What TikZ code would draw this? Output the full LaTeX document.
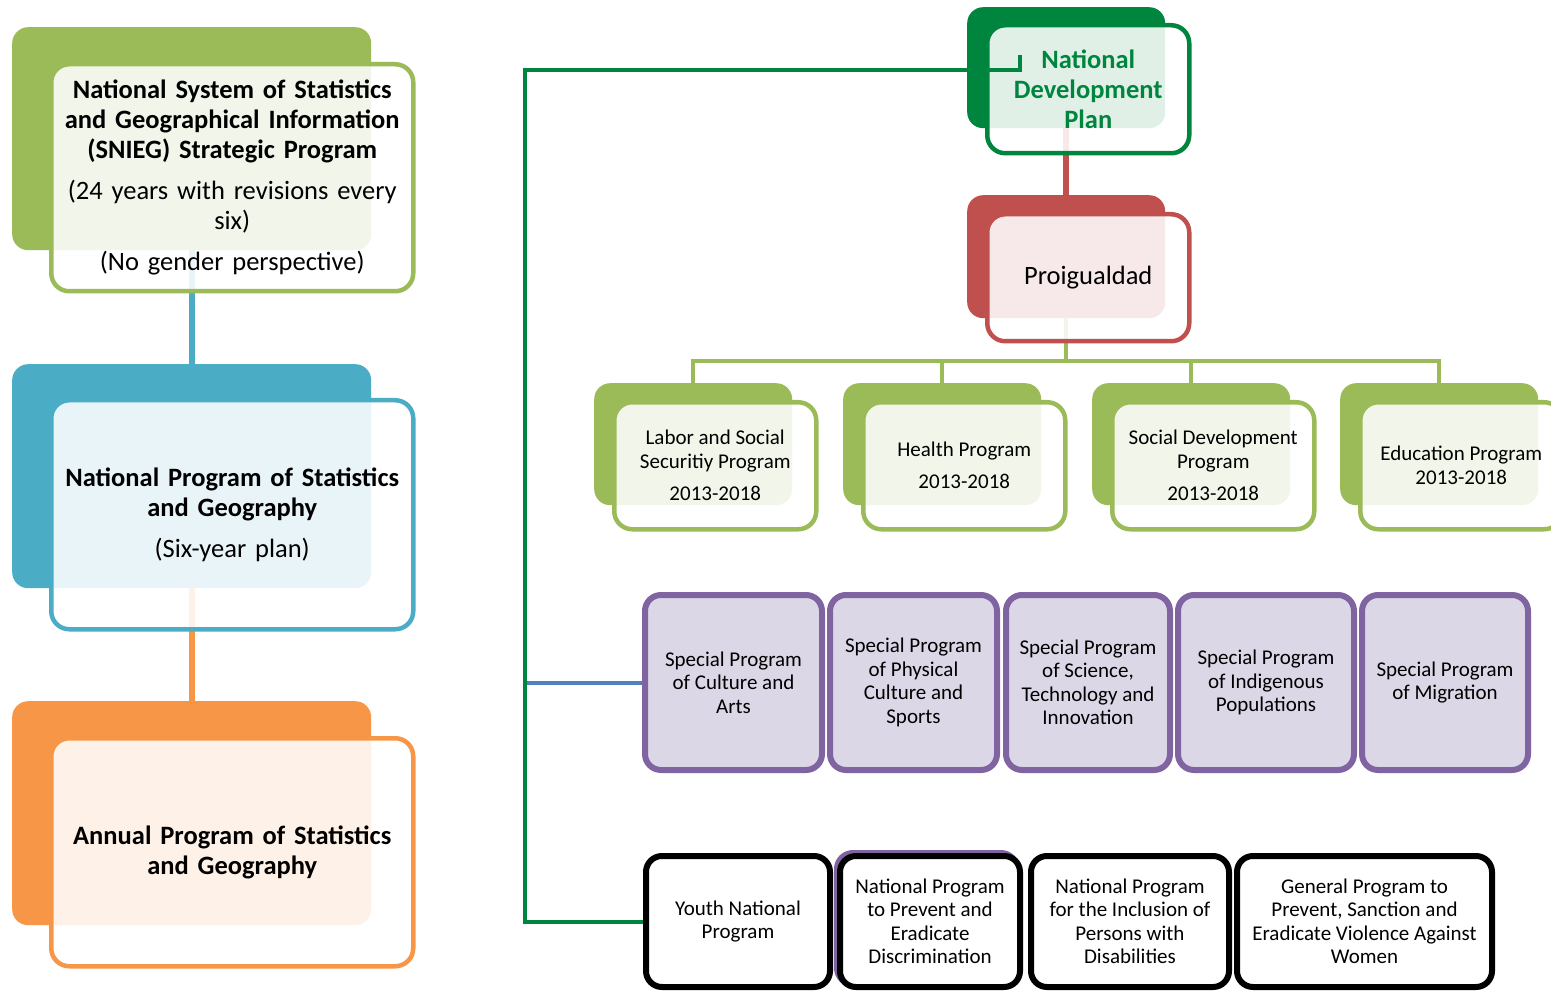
\documentclass[tikz,border=0pt]{standalone}
\usepackage{fontspec}
\setmainfont{Carlito}
\usetikzlibrary{positioning, backgrounds, calc}

\definecolor{sgreen}{HTML}{9BBB59}
\definecolor{steal}{HTML}{4BACC6}
\definecolor{sorange}{HTML}{F79646}
\definecolor{sred}{HTML}{C0504D}
\definecolor{ndpgreen}{HTML}{00853E}
\definecolor{spurple}{HTML}{8064A2}
\definecolor{slilac}{HTML}{DCD7E6}
\definecolor{sblue}{HTML}{4F81BD}

\tikzset{
  backbox/.style={rounded corners=16pt, inner sep=0pt, anchor=north west},
  frontbox/.style={rounded corners=18pt, line width=4.5pt, fill=white, fill opacity=0.88,
    text opacity=1, anchor=north west, align=center, inner sep=2pt},
  bigtext/.style={font=\fontsize{26.5}{30}\selectfont},
  smalltext/.style={font=\fontsize{21}{24}\selectfont},
  purplebox/.style={rounded corners=16pt, line width=6pt, draw=spurple, fill=slilac,
    anchor=north west, align=center, inner sep=2pt, minimum height=175,
    font=\fontsize{21}{23.5}\selectfont},
  blackbox/.style={rounded corners=16pt, line width=6pt, draw=black, fill=white,
    anchor=north west, align=center, inner sep=2pt, minimum height=131,
    font=\fontsize{21}{23.5}\selectfont},
  link/.style={line width=6pt},
}

\begin{document}
\begin{tikzpicture}[x=1pt, y=-1pt]
\useasboundingbox (0,0) rectangle (1551,992);

% Left column: SNIEG programs
\node[backbox, fill=sgreen, minimum width=359, minimum height=223] (snieg back) at (12,27) {};
\node[frontbox, draw=sgreen, minimum width=362, minimum height=227, text width=352, bigtext] (snieg) at (49,62)
  {\bfseries National System of Statistics\\and Geographical Information\\(SNIEG) Strategic Program\\[11pt]\mdseries (24 years with revisions every\\six)\\[11pt](No gender perspective)};

\node[backbox, fill=steal, minimum width=359, minimum height=224] (npeg back) at (12,364) {};
\node[frontbox, draw=steal, minimum width=362, minimum height=229, text width=352, bigtext] (npeg) at (49,398)
  {\bfseries National Program of Statistics\\and Geography\\[11pt]\mdseries (Six-year plan)};

\node[backbox, fill=sorange, minimum width=359, minimum height=224] (apeg back) at (12,701) {};
\node[frontbox, draw=sorange, minimum width=362, minimum height=228, text width=352, bigtext] (apeg) at (49,736)
  {\bfseries Annual Program of Statistics\\and Geography};

% Right column: plan and Proigualdad
\node[backbox, fill=ndpgreen, minimum width=198, minimum height=121] (ndp back) at (967,7) {};
\node[frontbox, draw=ndpgreen, minimum width=202, minimum height=128, text width=192, bigtext,
  text=ndpgreen] (ndp) at (985,23) {\bfseries National\\Development\\Plan};

\node[backbox, fill=sred, minimum width=198, minimum height=123] (prog back) at (967,195) {};
\node[frontbox, draw=sred, minimum width=202, minimum height=127, bigtext] (prog) at (985,212) {Proigualdad};

% Sector programs 2013-2018
\foreach \name/\x/\txt in {lab/594/{Labor and Social\\Securitiy Program\\[8pt]2013-2018},
                           hea/843/{Health Program\\[8pt]2013-2018},
                           soc/1092/{Social Development\\Program\\[8pt]2013-2018},
                           edu/1340/{Education Program\\2013-2018}} {
  \node[backbox, fill=sgreen, minimum width=198, minimum height=122] (\name back) at (\x,383) {};
  \node[frontbox, draw=sgreen, minimum width=202, minimum height=127, smalltext] (\name) at (\x+18,400) {\txt};
}

% Special programs
\foreach \name/\x/\w/\txt in {cult/642/177/{Special Program\\of Culture and\\Arts},
                              sport/827/167/{Special Program\\of Physical\\Culture and\\Sports},
                              scien/1003/164/{Special Program\\of Science,\\Technology and\\Innovation},
                              indig/1175/176/{Special Program\\of Indigenous\\Populations},
                              migr/1359/166/{Special Program\\of Migration}} {
  \node[purplebox, minimum width=\w] (\name) at (\x,592) {\txt};
}

% National programs
\node[blackbox, draw=spurple, minimum width=180] (disc back) at (834,850) {};
\foreach \name/\x/\w/\txt in {yth/643/184/{Youth National\\Program},
                              disc/837/180/{National Program\\to Prevent and\\Eradicate\\Discrimination},
                              incl/1028/198/{National Program\\for the Inclusion of\\Persons with\\Disabilities},
                              viol/1234/255/{General Program to\\Prevent, Sanction and\\Eradicate Violence Against\\Women}} {
  \node[blackbox, minimum width=\w] (\name) at (\x,853) {\txt};
}

% Connectors
\begin{scope}[on background layer]
  \draw[link, steal] (snieg back.south) -- (npeg back.north);
  \draw[link, sorange] (npeg back.south) -- (apeg back.north);
  \draw[link, sred] (ndp back.south) -- (prog back.north);

  \coordinate (bus) at (prog back.south |- 0,361);
  \draw[line width=4pt, sgreen] (prog back.south) -- (bus);
  \foreach \p in {lab,hea,soc,edu}
    \draw[line width=4pt, sgreen] (bus) -| (\p back.north);

  \coordinate (trunk) at (525,70);
  \draw[line width=4pt, sblue] (trunk |- cult.west) -- (cult.west);
\end{scope}
\coordinate (hook) at (1020,55);
\draw[line width=4pt, ndpgreen] (hook) |- (trunk) |- (yth.west);
\end{tikzpicture}
\end{document}
